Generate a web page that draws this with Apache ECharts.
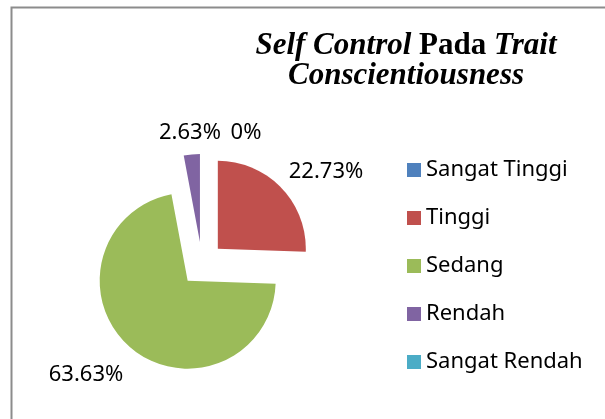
<!DOCTYPE html>
<html>
<head>
<meta charset="utf-8">
<script src="https://cdn.jsdelivr.net/npm/echarts@6/dist/echarts.min.js"></script>
<style>
  html, body { margin: 0; padding: 0; background: #fff; }
  #chart { width: 605px; height: 419px; }
</style>
</head>
<body>
<div id="chart"></div>
<script>
const categories = ['Sangat Tinggi', 'Tinggi', 'Sedang', 'Rendah', 'Sangat Rendah'];
const values = [0, 22.73, 63.63, 2.63, 0];
const colors = ['#4F81BD', '#C0504D', '#9BBB59', '#8064A2', '#4BACC6'];
// where each data label sits (centre of the text)
const labelSpots = [[246, 133], [326, 172], [86, 375], [190, 133], null];

const explode = 22;
const total = values.reduce((a, b) => a + b, 0);

// the label is moved with its exploded slice, so take that shift back out
function sliceShift(i) {
    let before = 0;
    for (let k = 0; k < i; k++) before += values[k];
    const mid = (before + values[i] / 2) / total * Math.PI * 2;
    return [explode * Math.sin(mid), -explode * Math.cos(mid)];
}

let myChart = echarts.init(document.getElementById('chart'));

let option = {
    animation: false,
    color: colors,
    title: {
        text: '{bi|Self Control }{b|Pada }{bi|Trait}\n{bi|Conscientiousness}',
        left: 401,
        top: 26,
        textAlign: 'center',
        textStyle: {
            rich: {
                bi: { fontFamily: 'Liberation Serif', fontSize: 31, fontWeight: 'bold', fontStyle: 'italic', color: '#000', lineHeight: 30 },
                b: { fontFamily: 'Liberation Serif', fontSize: 31, fontWeight: 'bold', color: '#000', lineHeight: 30 }
            }
        }
    },
    legend: {
        orient: 'vertical',
        left: 402,
        top: 153,
        icon: 'rect',
        itemWidth: 14,
        itemHeight: 14,
        itemGap: 24,
        itemTextGap: 8,
        selectedMode: false,
        data: categories,
        textStyle: { fontFamily: 'Noto Sans', fontSize: 22, color: '#000', lineHeight: 24 }
    },
    graphic: [{
        type: 'rect',
        shape: { x: 11.5, y: 7.5, width: 700, height: 500 },
        style: { fill: 'none', stroke: '#8c8c8c', lineWidth: 2 },
        silent: true
    }],
    series: [{
        type: 'pie',
        center: [202, 264],
        radius: 88,
        startAngle: 90,
        selectedMode: 'multiple',
        selectedOffset: explode,
        avoidLabelOverlap: false,
        minShowLabelAngle: -1,
        emphasis: { disabled: true },
        label: {
            show: true,
            position: 'outside',
            formatter: p => p.value + '%',
            fontFamily: 'Noto Sans',
            fontSize: 22,
            color: '#000'
        },
        labelLine: { show: false },
        labelLayout: p => {
            const s = labelSpots[p.dataIndex];
            if (!s) return {};
            const r = p.labelRect;
            const sh = sliceShift(p.dataIndex);
            return {
                dx: s[0] - (r.x + r.width / 2) - sh[0],
                dy: s[1] - (r.y + r.height / 2) - sh[1]
            };
        },
        data: categories.map((c, i) => ({
            name: c,
            value: values[i],
            selected: true,
            label: { show: labelSpots[i] !== null }
        }))
    }]
};

option && myChart.setOption(option);
</script>
</body>
</html>
